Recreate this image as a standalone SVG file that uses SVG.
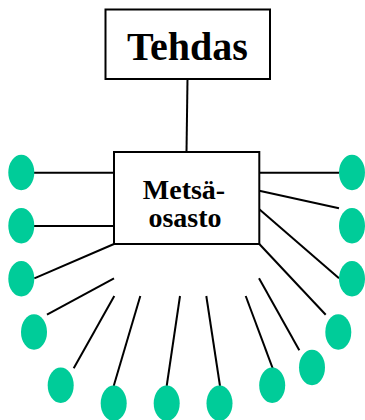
<svg xmlns="http://www.w3.org/2000/svg" width="365" height="420" viewBox="0 0 365 420">
<style>
.box{fill:#fff;stroke:#000;stroke-width:2}
.t{font-family:"Liberation Serif","Times New Roman",serif;font-weight:bold;fill:#000;text-anchor:middle}
.dot{fill:#00CC99}
.c line{stroke:#000;stroke-width:2}
</style>
<g class="c" id="connectors">
<line x1="187.5" y1="79" x2="186.5" y2="152"/>
<line x1="34" y1="172.7" x2="114" y2="172.7"/>
<line x1="34" y1="226" x2="114" y2="226"/>
<line x1="114" y1="244" x2="34.3" y2="278.3"/>
<line x1="114" y1="278.3" x2="47" y2="314.7"/>
<line x1="114.3" y1="296" x2="73.7" y2="368.3"/>
<line x1="140.3" y1="296" x2="113.7" y2="386"/>
<line x1="180" y1="296" x2="166.7" y2="386"/>
<line x1="206.3" y1="296" x2="220" y2="386"/>
<line x1="245.7" y1="296" x2="272.7" y2="368.3"/>
<line x1="259" y1="278.3" x2="299.3" y2="350.3"/>
<line x1="259.3" y1="244" x2="325.7" y2="314.7"/>
<line x1="259.3" y1="209.3" x2="339" y2="278.3"/>
<line x1="259.3" y1="190.7" x2="339" y2="208.3"/>
<line x1="259.3" y1="172.7" x2="339" y2="172.7"/>
</g>
<g id="tehdas">
<rect class="box" x="105.5" y="9.5" width="164.5" height="69.5"/>
<text class="t" x="187.5" y="60" font-size="40">Tehdas</text>
</g>
<g id="metsaosasto">
<rect class="box" x="114" y="152" width="145.3" height="92"/>
<text class="t" x="184" y="198.5" font-size="28">Metsä-</text>
<text class="t" x="185" y="227" font-size="28">osasto</text>
</g>
<g id="n1"><ellipse class="dot" cx="21.3" cy="172.5" rx="13" ry="17.7"/></g>
<g id="n2"><ellipse class="dot" cx="21.3" cy="225.8" rx="13" ry="17.7"/></g>
<g id="n3"><ellipse class="dot" cx="21.3" cy="278.7" rx="13" ry="17.7"/></g>
<g id="n4"><ellipse class="dot" cx="34" cy="332" rx="13" ry="17.7"/></g>
<g id="n5"><ellipse class="dot" cx="60.7" cy="385.3" rx="13" ry="17.7"/></g>
<g id="n6"><ellipse class="dot" cx="113.7" cy="403.3" rx="13" ry="17.7"/></g>
<g id="n7"><ellipse class="dot" cx="166.7" cy="403.3" rx="13" ry="17.7"/></g>
<g id="n8"><ellipse class="dot" cx="219.5" cy="403.3" rx="13" ry="17.7"/></g>
<g id="n9"><ellipse class="dot" cx="272.2" cy="385.3" rx="13" ry="17.7"/></g>
<g id="n10"><ellipse class="dot" cx="312" cy="367.5" rx="13" ry="17.7"/></g>
<g id="n11"><ellipse class="dot" cx="338.3" cy="332" rx="13" ry="17.7"/></g>
<g id="n12"><ellipse class="dot" cx="352" cy="278.7" rx="13" ry="17.7"/></g>
<g id="n13"><ellipse class="dot" cx="352" cy="225.8" rx="13" ry="17.7"/></g>
<g id="n14"><ellipse class="dot" cx="352" cy="172.5" rx="13" ry="17.7"/></g>
</svg>
